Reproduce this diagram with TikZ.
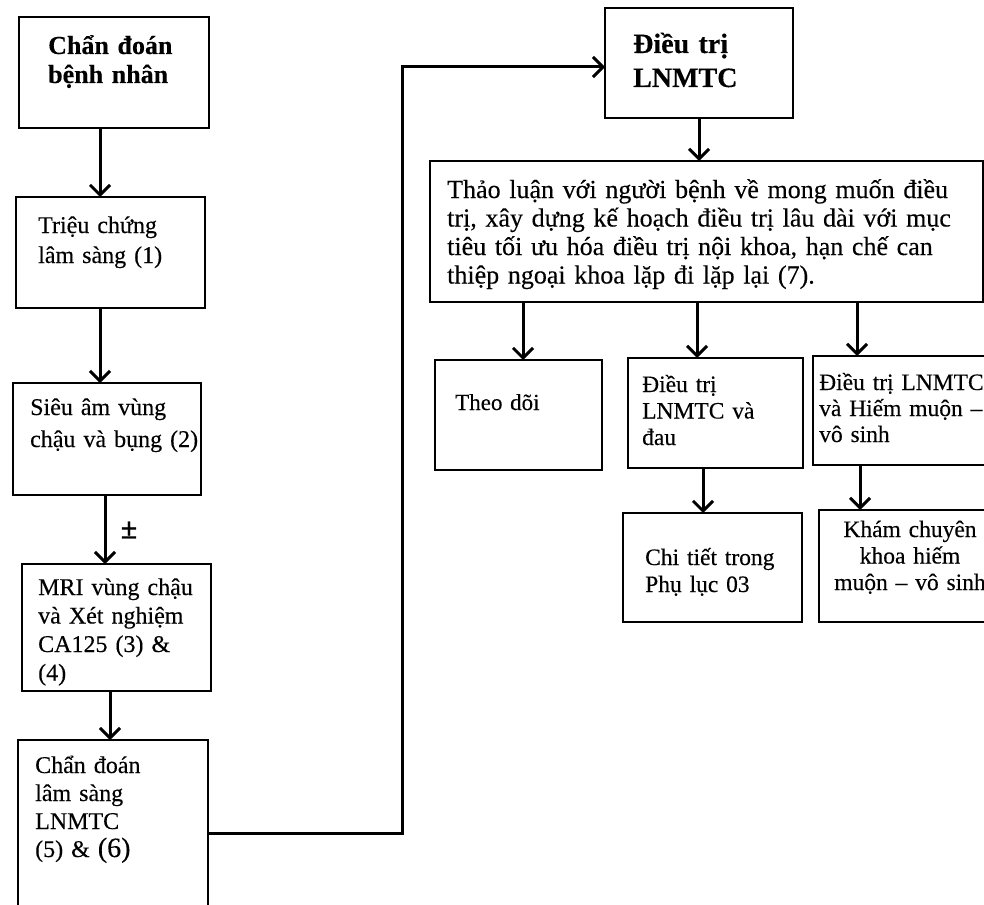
\documentclass[tikz,border=0pt]{standalone}
\usepackage{fontspec}
\setmainfont{Liberation Serif}[FakeBold=0.25, BoldFeatures={FakeBold=0.25}]
\usetikzlibrary{arrows.meta}
\tikzset{
  box/.style={draw=black, line width=2.8pt, rectangle, anchor=north west, inner sep=0pt, outer sep=0pt, fill=white},
  arr/.style={draw=black, line width=3pt, -{Straight Barb[length=10pt,width=20pt]}},
  txt/.style={anchor=base west, inner sep=0pt, align=left, text width=360pt},
  ctxt/.style={anchor=base, inner sep=0pt, align=center, text width=220pt},
}
\newcommand{\fs}[2]{\fontsize{#1pt}{#2pt}\selectfont}
\begin{document}
\begin{tikzpicture}[x=1pt,y=-1pt]
\useasboundingbox (0,0) rectangle (984,904);
\clip (0,0) rectangle (984,904);
\fill[white] (0,0) rectangle (984,904);

% left column boxes
\node[box, minimum width=190pt, minimum height=111pt] (A) at (19,17) {};
\node[box, minimum width=189pt, minimum height=111pt] (B) at (16,197) {};
\node[box, minimum width=188pt, minimum height=112pt] (C) at (13,383) {};
\node[box, minimum width=189pt, minimum height=127pt] (D) at (22,564) {};
\node[box, minimum width=190pt, minimum height=200pt] (E) at (18,740) {};

% right part boxes
\node[box, minimum width=188pt, minimum height=110pt] (F) at (605,8) {};
\node[box, minimum width=553pt, minimum height=141pt] (G) at (430,161) {};
\node[box, minimum width=167pt, minimum height=110pt] (H) at (435,360) {};
\node[box, minimum width=175pt, minimum height=110pt] (I) at (628,358) {};
\node[box, minimum width=190pt, minimum height=109pt] (J) at (813,356) {};
\node[box, minimum width=179pt, minimum height=109pt] (K) at (623,513) {};
\node[box, minimum width=190pt, minimum height=112pt] (L) at (819,510) {};

% texts
\node[txt, font=\bfseries\fs{26}{29}] (tA) at (48,54) {Chẩn đoán\\bệnh nhân};
\node[txt, font=\fs{24}{30}] (tB) at (38,233) {Triệu chứng\\lâm sàng (1)};
\node[txt, font=\fs{24}{32}] (tC) at (30,415) {Siêu âm vùng\\chậu và bụng (2)};
\node[txt, font=\fs{24}{28.5}] (tD) at (38,595) {MRI vùng chậu\\và Xét nghiệm\\CA125 (3) \&\\(4)};
\node[txt, font=\fs{24}{28}] (tE) at (35,773) {Chẩn đoán\\lâm sàng\\LNMTC\\(5) \& {\fs{28}{28}(6)}};
\node[font=\bfseries\fs{30}{30}, inner sep=0pt] (pm) at (129,530) {±};

\node[txt, font=\bfseries\fs{28}{34}] (tF) at (633,53) {Điều trị\\LNMTC};
\node[txt, text width=540pt, font=\fs{26}{28.5}] (tG) at (447,198) {Thảo luận với người bệnh về mong muốn điều\\trị, xây dựng kế hoạch điều trị lâu dài với mục\\tiêu tối ưu hóa điều trị nội khoa, hạn chế can\\thiệp ngoại khoa lặp đi lặp lại (7).};
\node[txt, font=\fs{23}{26}] (tH) at (455,410) {Theo dõi};
\node[txt, font=\fs{23.5}{26.5}] (tI) at (642,392) {Điều trị\\LNMTC và\\đau};
\node[txt, font=\fs{23.5}{26}] (tJ) at (819,390) {Điều trị LNMTC\\và Hiếm muộn –\\vô sinh};
\node[txt, font=\fs{23.5}{27}] (tK) at (645,565) {Chi tiết trong\\Phụ lục 03};
\node[ctxt, font=\fs{23.5}{26.5}] (tL) at (910,537) {Khám chuyên\\khoa hiếm\\muộn – vô sinh};

% connectors
\draw[arr] (100,0 |- A.south) -- (100,0 |- B.north);
\draw[arr] (100,0 |- B.south) -- (100,0 |- C.north);
\draw[arr] (105,0 |- C.south) -- (105,0 |- D.north);
\draw[arr] (110,0 |- D.south) -- (110,0 |- E.north);
\coordinate (c1) at (402,833);
\coordinate (c2) at (402,67);
\draw[arr] (E.east |- c1) -- (c1) -- (c2) -- (F.west |- c2);
\draw[arr] (699,0 |- F.south) -- (699,0 |- G.north);
\draw[arr] (523,0 |- G.south) -- (523,0 |- H.north);
\draw[arr] (697,0 |- G.south) -- (697,0 |- I.north);
\draw[arr] (857,0 |- G.south) -- (857,0 |- J.north);
\draw[arr] (703,0 |- I.south) -- (703,0 |- K.north);
\draw[arr] (860,0 |- J.south) -- (860,0 |- L.north);
\end{tikzpicture}
\end{document}
